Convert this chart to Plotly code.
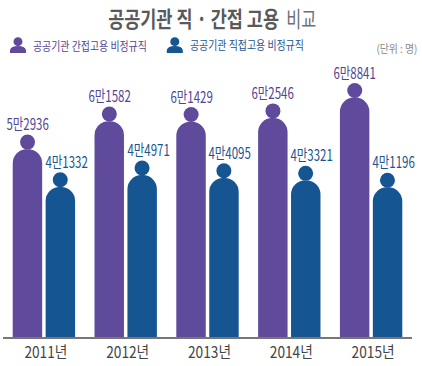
import plotly.graph_objects as go

years = ["2011년", "2012년", "2013년", "2014년", "2015년"]
indirect = [52936, 61582, 61429, 62546, 68841]
direct = [41332, 44971, 44095, 43321, 41196]
indirect_labels = ["5만2936", "6만1582", "6만1429", "6만2546", "6만8841"]
direct_labels = ["4만1332", "4만4971", "4만4095", "4만3321", "4만1196"]

PURPLE = "#5f4a9c"
BLUE = "#155592"
FONT = "Noto Sans CJK KR, sans-serif"
W, H = 422, 366
L, R, T, B = 3, 9.5, 60, 26
YMIN, YMAX = -5200, 80430
BASE = YMIN - 20000  # bars start below the visible axis so only their tops are rounded
HEAD = 2200  # head centre above the shoulder, in axis units
OFF = 0.2
xs = list(range(len(years)))

def px(x):
    return (x - L) / (W - L - R)
def py(y):
    return (H - B - y) / (H - T - B)

fig = go.Figure()
fig.add_bar(x=xs, y=[v - BASE for v in indirect], base=BASE, name="공공기관 간접고용 비정규직",
            marker=dict(color=PURPLE, cornerradius=15, line_width=0))
fig.add_bar(x=xs, y=[v - BASE for v in direct], base=BASE, name="공공기관 직접고용 비정규직",
            marker=dict(color=BLUE, cornerradius=15, line_width=0))
fig.add_scatter(x=[i - OFF for i in xs], y=[v + HEAD for v in indirect], mode="markers",
                marker=dict(color=PURPLE, size=15, line_width=0), showlegend=False, hoverinfo="skip")
fig.add_scatter(x=[i + OFF for i in xs], y=[v + HEAD for v in direct], mode="markers",
                marker=dict(color=BLUE, size=15, line_width=0), showlegend=False, hoverinfo="skip")

ann = []
for i in xs:
    ann.append(dict(x=i - OFF, y=indirect[i], xref="x", yref="y", text=indirect_labels[i], showarrow=False,
                    yanchor="middle", xanchor="center", yshift=26,
                    font=dict(family=FONT, size=15.5, color="#4f4596")))
    ann.append(dict(x=i + OFF, y=direct[i], xref="x", yref="y", text=direct_labels[i], showarrow=False,
                    yanchor="middle", xanchor="center", yshift=26, xshift=6,
                    font=dict(family=FONT, size=15.5, color="#1a5590")))

def text(x, y, s, size, color):
    ann.append(dict(x=px(x), y=py(y), xref="paper", yref="paper", text=s, showarrow=False,
                    xanchor="center", yanchor="middle", font=dict(family=FONT, size=size, color=color)))

text(193.5, 17, "<b>공공기관 직 · 간접 고용</b>", 22, "#58595b")
text(301, 17, "비교", 22, "#6d6e70")
text(90, 45, "공공기관 간접고용 비정규직", 12, "#4f4596")
text(247, 44, "공공기관 직접고용 비정규직", 12, "#1a5590")
text(397.5, 48, "(단위 : 명)", 11, "#888888")

shapes = []
def person(x, color):
    cx = x + 8
    shapes.append(dict(type="circle", xref="paper", yref="paper", x0=px(cx - 4.5), x1=px(cx + 4.5),
                       y0=py(37), y1=py(46), fillcolor=color, line_width=0))
    shapes.append(dict(type="path", xref="paper", yref="paper",
                       path=f"M {px(cx-8)} {py(53)} L {px(cx-8)} {py(50)} Q {px(cx-7)} {py(46)} {px(cx)} {py(46)} "
                            f"Q {px(cx+7)} {py(46)} {px(cx+8)} {py(50)} L {px(cx+8)} {py(53)} Z",
                       fillcolor=color, line_width=0))
person(10, PURPLE)
person(167, BLUE)

fig.update_layout(
    width=W, height=H, margin=dict(l=L, r=R, t=T, b=B), paper_bgcolor="white", plot_bgcolor="white",
    barmode="group", bargap=0.195, bargroupgap=0.106, showlegend=False,
    xaxis=dict(range=[-0.5, 4.5], tickmode="array", tickvals=xs, ticktext=years, showgrid=False, zeroline=False,
               showline=False, ticks="", ticklabelshift=2, ticklabelstandoff=3,
               tickfont=dict(family=FONT, size=16, color="#444444")),
    yaxis=dict(range=[YMIN, YMAX], visible=False, showgrid=False, zeroline=False),
    annotations=ann, shapes=shapes,
)
fig.update_xaxes(anchor="y")
fig.add_shape(type="line", xref="paper", yref="paper", x0=0, x1=1, y0=0, y1=0, line=dict(color="#777777", width=2))

# Condense the real text horizontally to the narrow lettering of the reference
POST = """
document.body.style.margin='0';document.documentElement.style.overflow='hidden';
function condense(){
  document.querySelectorAll('.annotation-text, .xtick text').forEach(function(t){
    if(t.getAttribute('data-cond')) return;
    var s=t.textContent;
    var w=/^[0-9]만/.test(s)?42.5:/년$/.test(s)?43:s.indexOf('·')>=0?171:s==='비교'?30:s.indexOf('비정규직')>=0?114:s.indexOf('단위')>=0?41:0;
    if(w){
      var b=t.getBBox(); if(!b.width) return;
      var k=w/b.width, cx=b.x+b.width/2, old=t.getAttribute('transform')||'';
      t.setAttribute('transform',old+' translate('+cx+' 0) scale('+k+' 1) translate('+(-cx)+' 0)');
      t.setAttribute('data-cond','1');
      var r=t.parentNode.querySelector('rect');
      if(r){
        var ow=parseFloat(r.getAttribute('width'))||0, ox=parseFloat(r.getAttribute('x'))||0;
        if(ow>w){r.setAttribute('x',ox+(ow-w)/2);r.setAttribute('width',w);}
      }
    }
  });
}
condense();setTimeout(condense,50);setTimeout(condense,300);
"""
fig.write_html("out.html", config=dict(displayModeBar=False), post_script=POST)
